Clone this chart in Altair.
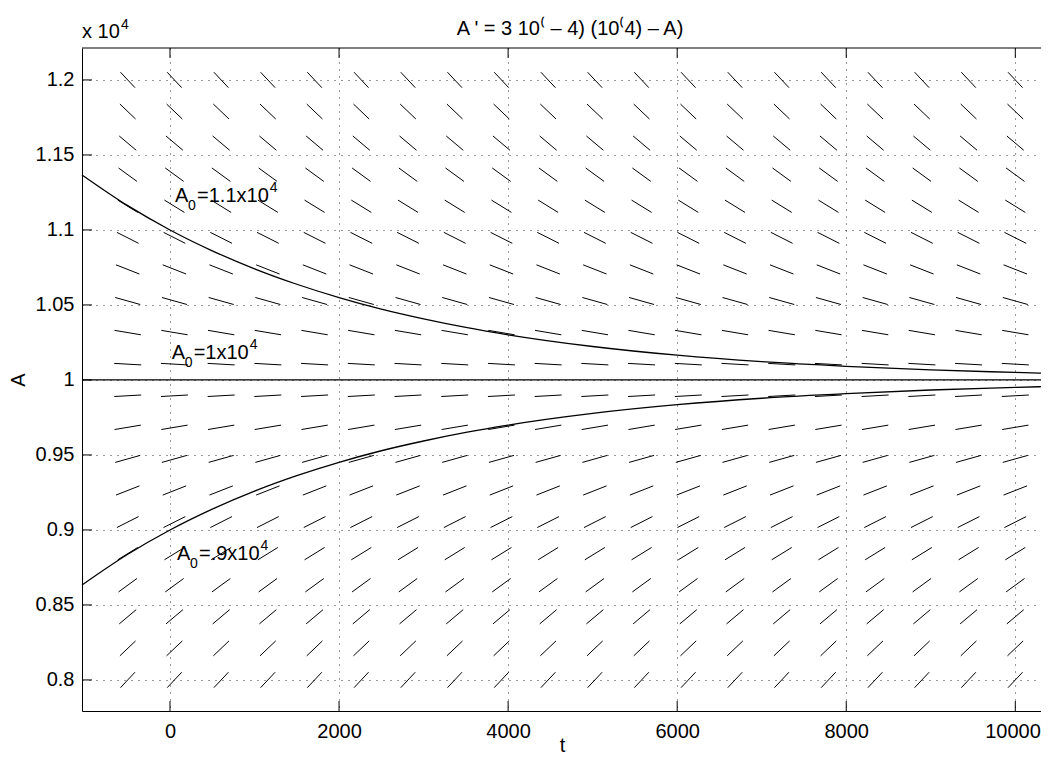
import math
import altair as alt
import pandas as pd

FONT = "Liberation Sans"

# ---- data -------------------------------------------------------------
# direction-field grid (columns in t, rows in A) and the slope on each row
field_t = [-500.0, 52.6, 605.3, 1157.9, 1710.5, 2263.2, 2815.8, 3368.4, 3921.1,
           4473.7, 5026.3, 5578.9, 6131.6, 6684.2, 7236.8, 7789.5, 8342.1,
           8894.7, 9447.4, 10000.0]
field_A = [8000.0, 8210.5, 8421.1, 8631.6, 8842.1, 9052.6, 9263.2, 9473.7,
           9684.2, 9894.7, 10105.3, 10315.8, 10526.3, 10736.8, 10947.4,
           11157.9, 11368.4, 11578.9, 11789.5, 12000.0]
field_slope = [0.6, 0.5368, 0.4737, 0.4105, 0.3474, 0.2842, 0.2211, 0.1579,
               0.0947, 0.0316, -0.0316, -0.0947, -0.1579, -0.2211, -0.2842,
               -0.3474, -0.4105, -0.4737, -0.5368, -0.6]

# solution curves
curve_t = [-1041, -500, 0, 500, 1000, 1500, 2000, 2500, 3000, 3500, 4000,
           5000, 6000, 7000, 8000, 9000, 10000, 10304]
curve_upper = [11367, 11162, 11000, 10861, 10741, 10638, 10549, 10472, 10407,
               10350, 10301, 10223, 10165, 10122, 10091, 10067, 10050, 10045]
curve_middle = [10000, 10000, 10000, 10000, 10000, 10000, 10000, 10000, 10000,
                10000, 10000, 10000, 10000, 10000, 10000, 10000, 10000, 10000]
curve_lower = [8633, 8838, 9000, 9139, 9259, 9362, 9451, 9528, 9593, 9650,
               9699, 9777, 9835, 9878, 9909, 9933, 9950, 9955]

x_ticks = [0, 2000, 4000, 6000, 8000, 10000]
y_ticks = [8000, 8500, 9000, 9500, 10000, 10500, 11000, 11500, 12000]

label_t = [60, 20, 83]
label_A = [11189, 10140, 8800]
label_value = ["1.1", "1", ".9"]

title_text = "A ' = 3 10\u207d \u2013 4) (10\u207d4) \u2013 A)"

# ---- layout -----------------------------------------------------------
W, H = 959, 663
X_DOMAIN = [-1041, 10304]
Y_DOMAIN = [7793, 12213]
xs = alt.Scale(domain=X_DOMAIN, zero=False, nice=False)
ys = alt.Scale(domain=Y_DOMAIN, zero=False, nice=False)

axis_common = dict(
    grid=True, gridColor="#000000", gridDash=[1, 6], gridWidth=1, gridOpacity=0.8,
    ticks=False, tickSize=0, domain=True, domainColor="#000000", domainWidth=1,
    labelFont=FONT, labelFontSize=20, labelColor="#000000",
    titleFont=FONT, titleFontSize=20, titleFontWeight="normal", titleColor="#000000",
)
X_AXIS = alt.Axis(values=x_ticks, format="d", title="t", labelPadding=10,
                  labelFlush=30, labelFlushOffset=25,
                  titleX=480, titleY=40, titleAlign="center", titleBaseline="alphabetic",
                  **axis_common)
Y_AXIS = alt.Axis(values=y_ticks, labelExpr="format(datum.value / 10000, '~g')", title="A",
                  labelPadding=8, titleX=-64, titleY=H / 2, titleAlign="center",
                  titleBaseline="middle", **axis_common)


def X(field):
    return alt.X(field, type="quantitative", scale=xs, axis=X_AXIS, title="t")


def Y(field):
    return alt.Y(field, type="quantitative", scale=ys, axis=Y_AXIS, title="A")


# ---- direction field segments -------------------------------------------
GT = field_t[1] - field_t[0]
GA = field_A[1] - field_A[0]
SEG = 0.58
seg_rows = []
for A, s in zip(field_A, field_slope):
    for t in field_t:
        h = (SEG / 2) / math.sqrt((1 / GT) ** 2 + (s / GA) ** 2)
        seg_rows.append(dict(t1=t - h, t2=t + h, A1=A - s * h, A2=A + s * h))
seg_df = pd.DataFrame(seg_rows)

curve_df = pd.concat([
    pd.DataFrame({"t": curve_t, "A": curve_upper, "c": "upper"}),
    pd.DataFrame({"t": curve_t, "A": curve_middle, "c": "middle"}),
    pd.DataFrame({"t": curve_t, "A": curve_lower, "c": "lower"}),
])

curves = alt.Chart(curve_df).mark_line(color="black", strokeWidth=1.3, interpolate="monotone").encode(
    x=X("t"), y=Y("A"), detail="c:N",
)

segments = alt.Chart(seg_df).mark_rule(color="black", strokeWidth=1).encode(
    x=X("t1"), x2="t2:Q", y=Y("A1"), y2="A2:Q",
)

xt_df = pd.DataFrame({"t": x_ticks})
yt_df = pd.DataFrame({"A": y_ticks})
bottom_ticks = alt.Chart(xt_df).mark_rule(color="black", strokeWidth=1).encode(
    x=X("t"), y=alt.value(H), y2=alt.value(H - 10))
top_ticks = alt.Chart(xt_df).mark_rule(color="black", strokeWidth=1).encode(
    x=X("t"), y=alt.value(0), y2=alt.value(10))
left_ticks = alt.Chart(yt_df).mark_rule(color="black", strokeWidth=1).encode(
    y=Y("A"), x=alt.value(0), x2=alt.value(10))

one = pd.DataFrame({"k": [0]})
top_frame = alt.Chart(one).mark_rule(color="black", strokeWidth=1).encode(
    x=alt.value(0), x2=alt.value(W), y=alt.value(0))

title = alt.Chart(one).mark_text(font=FONT, fontSize=20, align="center",
                                 baseline="alphabetic", color="black").encode(
    x=alt.value(488), y=alt.value(-13), text=alt.value(title_text))

exp_main = alt.Chart(one).mark_text(font=FONT, fontSize=20, align="left",
                                    baseline="alphabetic", color="black").encode(
    x=alt.value(0), y=alt.value(-10), text=alt.value("x 10"))
exp_sup = alt.Chart(one).mark_text(font=FONT, fontSize=14, align="left",
                                   baseline="alphabetic", color="black").encode(
    x=alt.value(39), y=alt.value(-19), text=alt.value("4"))

# ---- curve labels (A_0 = ... x 10^4) ------------------------------------
ADV = {"=": 0.584, "1": 0.556, ".": 0.278, "x": 0.5, "0": 0.556, "9": 0.556}
label_layers = []
for t, A, v in zip(label_t, label_A, label_value):
    d = pd.DataFrame({"t": [t], "A": [A]})
    body = "=" + v + "x10"
    sup_dx = 23 + 20 * sum(ADV[ch] for ch in body)
    pieces = [("A", 20, 0, 0), ("0", 14, 13, 8), (body, 20, 22, 0), ("4", 14, sup_dx, -10)]
    for txt, fs, dx, dy in pieces:
        label_layers.append(
            alt.Chart(d).mark_text(font=FONT, fontSize=fs, align="left", baseline="alphabetic",
                                   dx=dx, dy=dy, color="black").encode(
                x=X("t"), y=Y("A"), text=alt.value(txt)))

chart = alt.layer(
    curves, segments, bottom_ticks, top_ticks, left_ticks, top_frame,
    title, exp_main, exp_sup, *label_layers,
).properties(
    width=W, height=H,
    autosize=alt.AutoSizeParams(type="none"),
    padding={"left": 74, "top": 40, "right": 0, "bottom": 43},
    background="white",
).configure_view(stroke="transparent")

chart.save("out.html", embed_options={"renderer": "svg", "actions": False})
